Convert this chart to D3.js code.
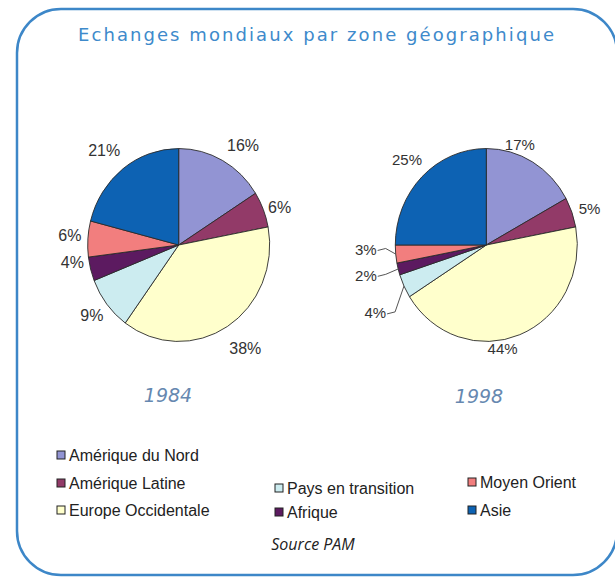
<!DOCTYPE html>
<html><head><meta charset="utf-8">
<script src="https://cdn.jsdelivr.net/npm/d3@7"></script>
<style>html,body{margin:0;padding:0;background:#fff;}svg{display:block;}</style>
</head><body>
<svg id="chart" width="615" height="578"></svg>
<script>
// ---- data ----
const categories = ["Amérique du Nord","Amérique Latine","Europe Occidentale","Pays en transition","Afrique","Moyen Orient","Asie"];
const values1984 = [16, 6, 38, 9, 4, 6, 21];
const values1998 = [17, 5, 44, 4, 2, 3, 25];
const years = ["1984", "1998"];
const titleText = "Echanges mondiaux par zone géographique";
const sourceText = "Source PAM";

// ---- styles / layout ----
const colors = ["#9294d3", "#923a68", "#ffffcc", "#ccecf0", "#5c1a60", "#f27e7e", "#0d62b3"];
const labelNudge1984 = [[9,7],[-6,7],[5,0],[4,-4],[5,-13],[6,-2],[-4,2]];
const labelNudge1998 = [[-25,5],[-5,5],[-26,-10],[-7,16],[-9,0],[-6,-7],[2,1]];
const leader1998 = [false,false,false,true,true,true,false];
const legendPos = [[57,455],[57,483],[57,510],[275,488],[275,512],[468,482],[468,510]];

const svg = d3.select("#chart");

// frame
svg.append("rect").attr("x",17).attr("y",9).attr("width",600).attr("height",566)
  .attr("rx",44).attr("ry",44).attr("fill","#fff").attr("stroke","#3d87c8").attr("stroke-width",2.5);

// title
svg.append("text").attr("x",316).attr("y",41).attr("text-anchor","middle")
  .attr("font-family","'DejaVu Sans', sans-serif").attr("font-size",18)
  .attr("textLength",476).attr("lengthAdjust","spacing")
  .attr("fill","#3e8acb").text(titleText);

const R = 91, scaleY = 1.06, labelR = 115;
const pie = d3.pie().sort(null).value(d => d);
const arc = d3.arc().innerRadius(0).outerRadius(R);

function drawPie(values, cx, cy, nudges, leaders, fs, year, yearX, yearY) {
  const arcs = pie(values);
  const g = svg.append("g").attr("transform", `translate(${cx},${cy}) scale(1,${scaleY})`);
  g.selectAll("path").data(arcs).enter().append("path")
    .attr("d", arc).attr("fill", (d,i) => colors[i])
    .attr("stroke", "#2a2a2a").attr("stroke-width", 0.9)
    .attr("vector-effect","non-scaling-stroke");

  const lg = svg.append("g").attr("transform", `translate(${cx},${cy})`);
  arcs.forEach((a, i) => {
    const mid = (a.startAngle + a.endAngle) / 2;
    const lx = labelR * Math.sin(mid) + nudges[i][0];
    const ly = -labelR * Math.cos(mid) * scaleY + nudges[i][1];
    const t = lg.append("text").attr("x", lx).attr("y", ly + fs*0.35)
      .attr("text-anchor","middle").attr("font-family","'Liberation Sans', Arial, sans-serif")
      .attr("font-size", fs).attr("fill","#333")
      .text(Math.round(a.data) + "%");
    if (leaders[i]) {
      const tw = t.node().getComputedTextLength();
      const sx = lx + tw/2 + 1, sy = ly + 1;
      const ex = R * Math.sin(mid), ey = -R * Math.cos(mid) * scaleY;
      lg.append("polyline")
        .attr("points", `${sx},${sy} ${sx+8},${sy-2} ${ex},${ey}`)
        .attr("fill","none").attr("stroke","#555").attr("stroke-width",1);
    }
  });

  svg.append("text").attr("x", yearX).attr("y", yearY)
    .attr("text-anchor","middle").attr("font-family","'DejaVu Sans', sans-serif")
    .attr("font-style","italic").attr("font-size",19).attr("fill","#6688b0")
    .text(year);
}

drawPie(values1984, 178.7, 245, labelNudge1984, [false,false,false,false,false,false,false], 16, years[0], 168, 402);
drawPie(values1998, 486.3, 245, labelNudge1998, leader1998, 15, years[1], 479, 403);

// legend
const leg = svg.append("g");
categories.forEach((c, i) => {
  const [x, y] = legendPos[i];
  leg.append("rect").attr("x", x).attr("y", y - 4).attr("width", 8).attr("height", 8)
    .attr("fill", colors[i]).attr("stroke", "#222").attr("stroke-width", 1);
  leg.append("text").attr("x", x + 12).attr("y", y + 5.5)
    .attr("font-family","'Liberation Sans', Arial, sans-serif").attr("font-size",16)
    .attr("fill","#222").text(c);
});

// source
svg.append("text").attr("x", 313).attr("y", 550).attr("text-anchor","middle")
  .attr("font-family","'Open Sans', sans-serif").attr("font-style","italic")
  .attr("font-size",16).attr("fill","#222").text(sourceText);
</script>
</body></html>
